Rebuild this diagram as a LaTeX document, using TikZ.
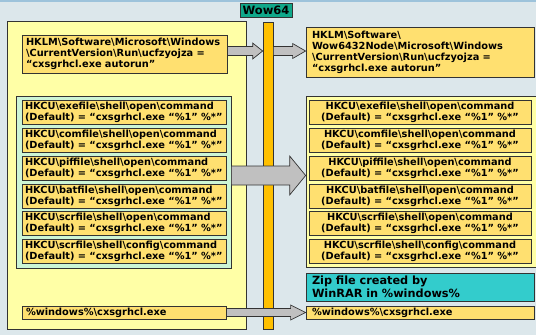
\documentclass[tikz,border=0pt]{standalone}
\usepackage{fontspec}
\setmainfont{DejaVu Sans}
\usetikzlibrary{calc}

\definecolor{bg}{HTML}{DCE7EB}
\definecolor{topline}{HTML}{9DC3DB}
\definecolor{edge}{HTML}{333333}
\definecolor{paleyellow}{HTML}{FFFFA6}
\definecolor{keyfill}{HTML}{FFE070}
\definecolor{mint}{HTML}{CCF5D6}
\definecolor{barorange}{HTML}{FFC000}
\definecolor{labelteal}{HTML}{10A88A}
\definecolor{notecyan}{HTML}{33CCCC}
\definecolor{arrowgray}{HTML}{C0C0C0}

\newcommand\bsl{\textbackslash}
\newcommand\cmdline{(Default) = “cxsgrhcl.exe “\%1” \%*”}

% block arrow: start, tip, shaft half height, head half height, head length
\newcommand\blockarrow[5]{%
  \draw[arrowshape] ($(#1)+(0,#3)$) -- ($(#2)+(-#5,#3)$) -- ($(#2)+(-#5,#4)$)
    -- (#2) -- ($(#2)+(-#5,-#4)$) -- ($(#2)+(-#5,-#3)$) -- ($(#1)+(0,-#3)$) -- cycle;}

\tikzset{
  panel/.style={draw=edge, line width=0.7pt, inner sep=0pt},
  keybox/.style={draw=edge, line width=0.8pt, fill=keyfill, inner xsep=5pt, inner ysep=0pt,
    font=\bfseries\fontsize{9.8}{11}\selectfont},
  arrowshape/.style={draw=edge, line width=0.7pt, fill=arrowgray, line join=miter},
}

\begin{document}
\begin{tikzpicture}[x=1pt, y=-1pt]
\useasboundingbox (0,0) rectangle (536,335);
\fill[bg] (0,0) rectangle (536,335);
\fill[topline] (0,0) rectangle (536,1.5);

% panels
\node[panel, fill=paleyellow, minimum width=238.5pt, minimum height=307.5pt] (lpanel) at (126.75,175.25) {};
\node[panel, fill=mint, minimum width=215pt, minimum height=172pt] (grn) at (123.5,182) {};
\node[panel, fill=paleyellow, minimum width=231pt, minimum height=171pt] (rpanel) at (421.5,181.5) {};

% Wow64 bar and label
\node[panel, fill=barorange, minimum width=10pt, minimum height=307pt] (bar) at (268,175.5) {};
\node[draw=edge, line width=0.7pt, fill=labelteal, inner sep=0pt, minimum width=52pt, minimum height=14pt,
  font=\bfseries\fontsize{11.5}{13}\selectfont] (wow) at (266,10) {Wow64};

% Run key, before and after
\node[keybox, inner xsep=4pt, text width=197pt, align=left, minimum height=38pt] (topL) at (124.5,54)
  {HKLM\bsl Software\bsl Microsoft\bsl Windows\\\bsl CurrentVersion\bsl Run\bsl ucfzyojza =\\“cxsgrhcl.exe autorun”};
\node[keybox, inner xsep=6pt, text width=216pt, align=left, minimum height=50pt] (topR) at (420,52)
  {HKLM\bsl Software\bsl\\Wow6432Node\bsl Microsoft\bsl Windows\\\bsl CurrentVersion\bsl Run\bsl ucfzyojza =\\“cxsgrhcl.exe autorun”};

% file association keys
\foreach \i/\ext/\verb in {0/exefile/open, 1/comfile/open, 2/piffile/open, 3/batfile/open, 4/scrfile/open, 5/scrfile/config} {
  \node[keybox, inner xsep=3pt, text width=198pt, align=left, minimum height=24pt] (l\i) at (124,112.5+27.8*\i)
    {HKCU\bsl\ext\bsl shell\bsl\verb\bsl command\\\cmdline};
  \node[keybox, text width=212pt, align=center, minimum height=24pt] (r\i) at (420,112.5+27.8*\i)
    {HKCU\bsl\ext\bsl shell\bsl\verb\bsl command\\\cmdline};
}

% dropped file
\node[keybox, inner xsep=4pt, text width=196pt, align=left, minimum height=13pt] (botL) at (124,312.5) {\%windows\%\bsl cxsgrhcl.exe};
\node[keybox, inner xsep=6pt, text width=216pt, align=left, minimum height=13pt] (botR) at (420,312.5) {\%windows\%\bsl cxsgrhcl.exe};
\node[draw=edge, line width=0.8pt, fill=notecyan, inner xsep=6pt, inner ysep=0pt, text width=216pt, align=left,
  minimum height=28pt, font=\bfseries\fontsize{11.3}{13}\selectfont] (zip) at (420,287)
  {Zip file created by\\WinRAR in \%windows\%};

% arrows
\coordinate (row1) at (0,51);
\coordinate (row2) at (0,175.5);
\coordinate (a1s) at (topL.east |- row1);
\coordinate (a1t) at (bar.west |- row1);
\coordinate (a2s) at (bar.east |- row1);
\coordinate (a2t) at (topR.west |- row1);
\coordinate (a3s) at (grn.east |- row2);
\coordinate (a3t) at (rpanel.west |- row2);
\coordinate (a4s) at (botL.east);
\coordinate (a4t) at (botR.west);
\blockarrow{a1s}{a1t}{4.5}{8}{10}
\blockarrow{a2s}{a2t}{4.5}{7.5}{13}
\blockarrow{a3s}{a3t}{9.5}{19.5}{16}
\blockarrow{a4s}{a4t}{4}{7.5}{15}
\end{tikzpicture}
\end{document}
